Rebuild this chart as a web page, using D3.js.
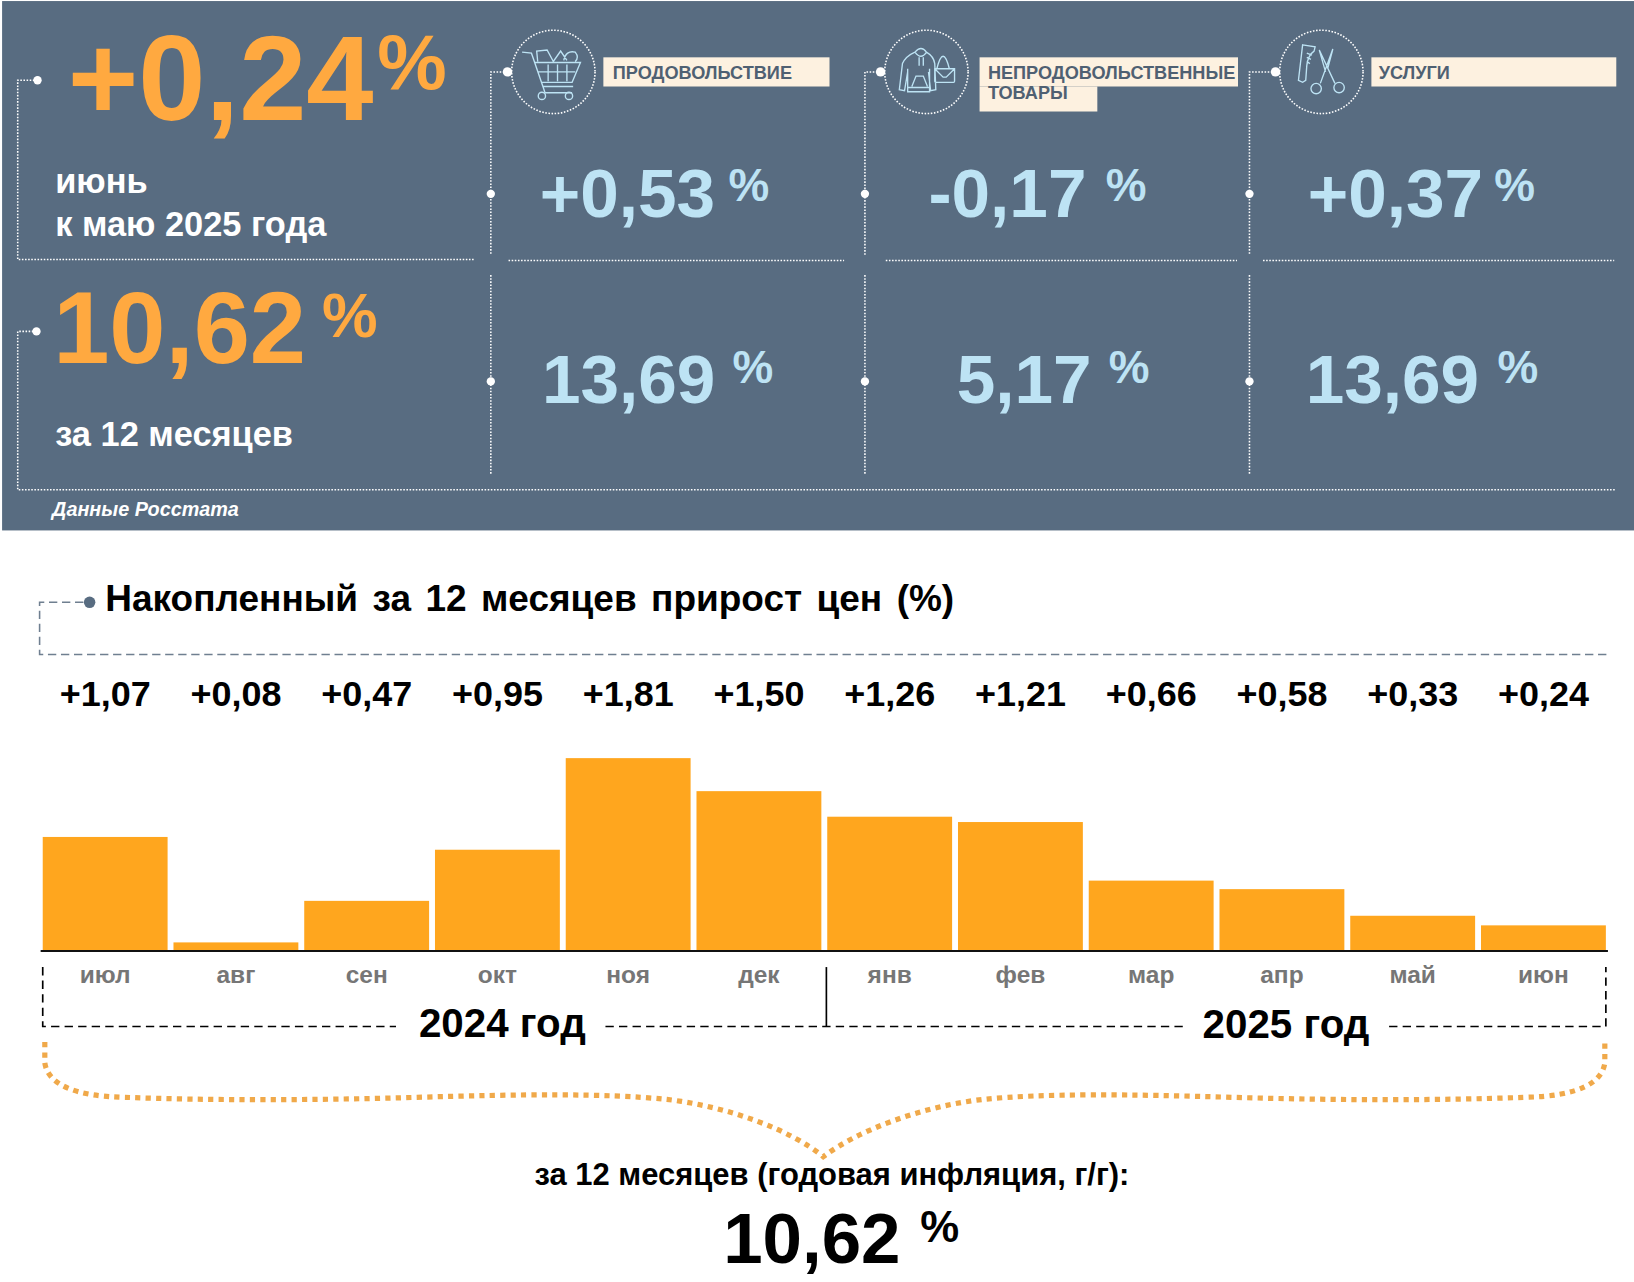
<!DOCTYPE html>
<html lang="ru">
<head>
<meta charset="utf-8">
<script src="https://cdn.jsdelivr.net/npm/d3@7"></script>
<style>
	html, body { margin: 0; padding: 0; background: #fff; }
	svg { display: block; font-family: "Liberation Sans", Arial, sans-serif; font-weight: bold; }
</style>
</head>
<body>
<svg id="chart" width="1634" height="1282" viewBox="0 0 1568 1230.2"></svg>
<script>
// --- Data ---
const months = ["июл", "авг", "сен", "окт", "ноя", "дек", "янв", "фев", "мар", "апр", "май", "июн"];
const monthlyValues = [1.07, 0.08, 0.47, 0.95, 1.81, 1.5, 1.26, 1.21, 0.66, 0.58, 0.33, 0.24];
const categories = [["ПРОДОВОЛЬСТВИЕ"], ["НЕПРОДОВОЛЬСТВЕННЫЕ", "ТОВАРЫ"], ["УСЛУГИ"]];
const categoryMonth = ["+0,53", "-0,17", "+0,37"];
const categoryYear = ["13,69", "5,17", "13,69"];
const PANEL = "#586c81";
const ORANGE = "#ffa940";
const BLUE = "#bde3f4";
const BAR = "#ffa61e";

const svg = d3.select("#chart");

// helper for all the loose text on the page
function label(x, y, str, size, fill, anchor) {
	return svg
		.append("text")
		.attr("x", x)
		.attr("y", y)
		.attr("font-size", size)
		.attr("fill", fill)
		.attr("text-anchor", anchor || "start")
		.text(str);
}

function dotted(d) {
	svg
		.append("path")
		.attr("d", d)
		.attr("fill", "none")
		.attr("stroke", "#fff")
		.attr("stroke-width", 1.5)
		.attr("stroke-dasharray", "1.5 1.5");
}

function dot(x, y, r) {
	svg.append("circle").attr("cx", x).attr("cy", y).attr("r", r || 4).attr("fill", "#fff");
}

// -------------------------
// Top panel
// -------------------------
svg.append("rect").attr("x", 2).attr("y", 1).attr("width", 1566).attr("height", 508).attr("fill", PANEL);

label(65, 115, "+0,24", 116, ORANGE);
label(362, 85, "%", 75, ORANGE);
label(53, 185, "июнь", 33, "#fff");
label(53, 226, "к маю 2025 года", 33, "#fff");
label(51, 348, "10,62", 97, ORANGE);
label(309, 323, "%", 60, ORANGE);
label(53, 428, "за 12 месяцев", 33, "#fff");
label(50, 495, "Данные Росстата", 19, "#fff").attr("font-style", "italic");

dotted("M36,77 H17 V249 H456");
dotted("M35,318 H17 V470 H1550");
dot(36, 77);
dot(35, 318);

// one column per category
const colLine = [471, 830, 1199];
const colRule = [[488, 810], [850, 1187], [1212, 1549]];
const colIcon = [531, 889, 1268];
const colBox = [[579, 217], [940, 248], [1316, 235]];
const colMonthX = [[518, 699], [891, 1061], [1255, 1434]];
const colYearX = [[520, 703], [918, 1064], [1253, 1437]];

const icons = [
	"M-30,-19 L-21,-18 L-10,14 L19,14 M-18,-9 L26,-9 L18,10 L-12,10 M-15,0 H21 M-5,-7 V9 M4,-7 V9 M13,-7 V9 M-10,14 L-8,20 H18 M-15,-10 L-16,-20 L-6,-21 L0,-10 L7,-20 L13,-11 M10,-11 Q12,-21 21,-19 Q25,-14 21,-10",
	"M-11,-19 Q-5,-26 0,-19 Q-5,-11 -11,-19 M-11,-19 Q-20,-15 -23,-8 L-26,17 L-21,18 L-18,0 M0,-19 Q7,-15 8,-8 L9,17 L4,18 L2,0 M-18,-3 V19 H3 V-3 M-18,15 H3 M-14,14 L-10,4 H-3 L1,14 M-7,-14 V-6 M-3,-14 V-6 M8,-3 H27 V9 Q27,10 26,10 H9 Q8,10 8,9 Z M10,-3 Q16,-27 22,-3 M8,-3 L16,5 H19 L27,-3",
	"M-18,-26 L-6,-24 L-7,-20 Q-13,-16 -14,-6 L-15,8 L-18,10 L-22,8 Z M-14,-18 L-9,-16 M-14,-14 L-10,-12 M-14,-10 L-11,-8 M-2,-21 L13,11 M11,-22 L-1,11 M-2,-21 L4,0 M11,-22 L6,-3",
];

categories.forEach((lines, i) => {
	const x = colLine[i];
	dotted(`M${colIcon[i] - 44},69 H${x} V245`);
	dotted(`M${x},264 V456`);
	dotted(`M${colRule[i][0]},250 H${colRule[i][1]}`);
	dot(colIcon[i] - 44, 69, 4.5);
	dot(x, 186);
	dot(x, 366);

	svg.append("circle")
		.attr("cx", colIcon[i]).attr("cy", 69).attr("r", 40)
		.attr("fill", "none").attr("stroke", "#fff")
		.attr("stroke-width", 1.5).attr("stroke-dasharray", "1.5 1.5");

	const icon = svg.append("g").attr("transform", `translate(${colIcon[i]},69)`)
		.attr("fill", "none").attr("stroke", BLUE).attr("stroke-width", 1.3);
	icon.append("path").attr("d", icons[i]);
	if (i === 0) {
		icon.append("circle").attr("cx", -11).attr("cy", 23).attr("r", 3.5);
		icon.append("circle").attr("cx", 15).attr("cy", 23).attr("r", 3.5);
	}
	if (i === 2) {
		icon.append("circle").attr("cx", 17).attr("cy", 15).attr("r", 5);
		icon.append("circle").attr("cx", -5).attr("cy", 16).attr("r", 5);
	}

	// label box
	svg.append("rect").attr("x", colBox[i][0]).attr("y", 55)
		.attr("width", colBox[i][1]).attr("height", 28).attr("fill", "#fdf1e0");
	if (lines.length > 1) {
		svg.append("rect").attr("x", colBox[i][0]).attr("y", 83)
			.attr("width", 113).attr("height", 24).attr("fill", "#fdf1e0");
	}
	lines.forEach((line, j) => {
		label(colBox[i][0] + (i === 2 ? 7 : i === 1 ? 8 : 9), 75.5 + j * 19.5, line, 17.4, "#4f6072");
	});

	label(colMonthX[i][0], 208, categoryMonth[i], 66.5, BLUE);
	label(colMonthX[i][1], 193, "%", 44, BLUE);
	label(colYearX[i][0], 387, categoryYear[i], 66.5, BLUE);
	label(colYearX[i][1], 368, "%", 44, BLUE);
});

// -------------------------
// Bars
// -------------------------
label(101, 586, "Накопленный за 12 месяцев прирост цен (%)", 35.5, "#000").attr("word-spacing", 4);

svg.append("path")
	.attr("d", "M80,578 H38 V628 H1543")
	.attr("fill", "none")
	.attr("stroke", "#6f7f90")
	.attr("stroke-width", 1.5)
	.attr("stroke-dasharray", "8 4.5");
svg.append("circle").attr("cx", 86).attr("cy", 578).attr("r", 5.5).attr("fill", PANEL);

const x = d3.scaleBand().domain(months).range([41, 1541]).paddingInner(0.045);
const y = d3.scaleLinear().domain([0, 1.81]).range([912.5, 727.5]);

svg.append("g")
	.selectAll("rect")
	.data(monthlyValues)
	.enter()
	.append("rect")
	.attr("x", (d, i) => x(months[i]))
	.attr("y", (d) => y(d))
	.attr("width", x.bandwidth())
	.attr("height", (d) => y(0) - y(d))
	.attr("fill", BAR);

const fmt = (v) => d3.format("+.2f")(v).replace(".", ",");
svg.append("g")
	.selectAll("text")
	.data(monthlyValues)
	.enter()
	.append("text")
	.attr("x", (d, i) => x(months[i]) + x.bandwidth() / 2)
	.attr("y", 677.5)
	.attr("text-anchor", "middle")
	.attr("font-size", 34.5)
	.attr("fill", "#000")
	.text(fmt);

const axis = d3.axisBottom(x).tickSize(0).tickPadding(15);
const axisG = svg.append("g").attr("transform", "translate(0,912)").call(axis);
axisG.select(".domain").remove();
axisG.selectAll("text")
	.attr("font-family", "Liberation Sans")
	.attr("font-size", 23.5)
	.attr("font-weight", "bold")
	.attr("fill", "#767676");

svg.append("line").attr("x1", 39).attr("x2", 1543).attr("y1", 912.5).attr("y2", 912.5)
	.attr("stroke", "#111").attr("stroke-width", 2);

// year bracket
svg.append("path")
	.attr("d", "M41,928 V985 H380 M581,985 H1135 M1333,985 H1541 V928")
	.attr("fill", "none").attr("stroke", "#000")
	.attr("stroke-width", 1.6).attr("stroke-dasharray", "8 5");
svg.append("line").attr("x1", 793).attr("x2", 793).attr("y1", 928).attr("y2", 985)
	.attr("stroke", "#000").attr("stroke-width", 1.6);
label(402, 995, "2024 год", 38.7, "#000");
label(1154, 996, "2025 год", 38.7, "#000");

// curly brace
svg.append("path")
	.attr("d", "M43,1000 V1020 C46,1040 70,1052 120,1053 C200,1056 300,1056 400,1053 C500,1050 580,1049 640,1055 C700,1062 760,1085 790,1110 C823,1085 883,1062 943,1055 C1003,1049 1083,1050 1183,1053 C1283,1056 1383,1056 1463,1053 C1513,1052 1537,1040 1540,1020 V1000")
	.attr("fill", "none")
	.attr("stroke", "#f0a94a")
	.attr("stroke-width", 5)
	.attr("stroke-dasharray", "5 5");

// bottom total
label(513, 1137, "за 12 месяцев (годовая инфляция, г/г):", 29.7, "#000");
label(694, 1212, "10,62", 68, "#000");
label(883, 1192, "%", 42, "#000");
</script>
</body>
</html>
